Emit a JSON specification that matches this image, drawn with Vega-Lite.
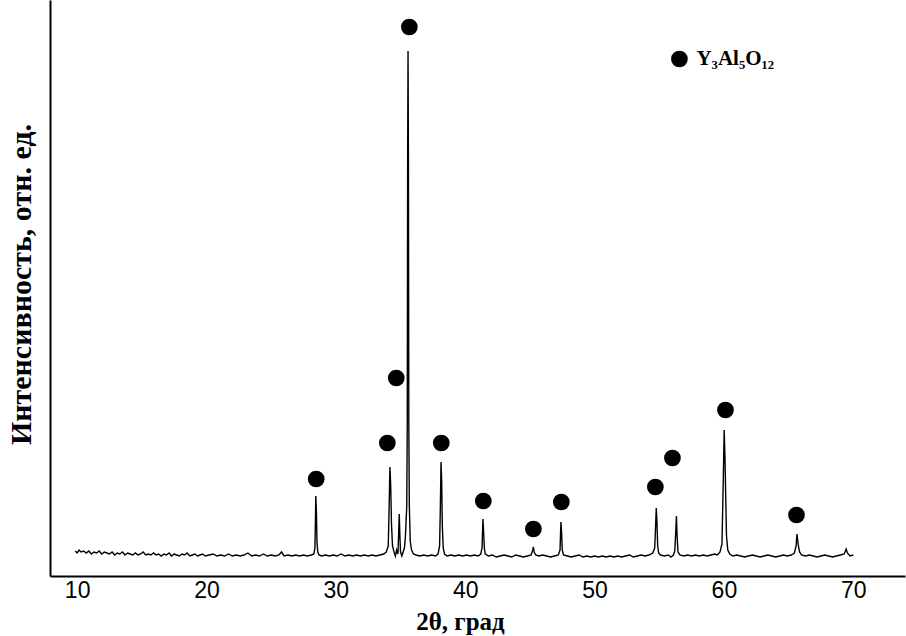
{
  "$schema": "https://vega.github.io/schema/vega-lite/v6.json",
  "width": 855,
  "height": 576,
  "autosize": "none",
  "padding": {"left": 50, "top": 0, "right": 1, "bottom": 60},
  "background": "white",
  "config": {"view": {"stroke": null}},
  "datasets": {
    "xrd": [
      {"t":9.85,"i":25},{"t":10.0,"i":23},{"t":10.15,"i":26},{"t":10.3,"i":24},{"t":10.5,"i":25},{"t":10.7,"i":23},{"t":10.9,"i":25},{"t":11.1,"i":22},{"t":11.3,"i":24},{"t":11.5,"i":23},{"t":11.7,"i":25},{"t":11.9,"i":22},{"t":12.1,"i":24},{"t":12.3,"i":23},{"t":12.5,"i":22},{"t":12.7,"i":24},{"t":12.9,"i":21},{"t":13.1,"i":23},{"t":13.3,"i":22},{"t":13.5,"i":24},{"t":13.7,"i":21},{"t":13.9,"i":23},{"t":14.1,"i":22},{"t":14.3,"i":21},{"t":14.5,"i":23},{"t":14.7,"i":21},{"t":14.9,"i":22},{"t":15.1,"i":24},{"t":15.3,"i":21},{"t":15.5,"i":22},{"t":15.7,"i":21},{"t":15.9,"i":23},{"t":16.1,"i":21},{"t":16.3,"i":22},{"t":16.5,"i":20},{"t":16.7,"i":22},{"t":16.9,"i":21},{"t":17.1,"i":23},{"t":17.3,"i":20},{"t":17.5,"i":22},{"t":17.7,"i":21},{"t":17.9,"i":20},{"t":18.1,"i":22},{"t":18.3,"i":21},{"t":18.5,"i":23},{"t":18.7,"i":20},{"t":18.9,"i":21},{"t":19.1,"i":22},{"t":19.3,"i":20},{"t":19.5,"i":21},{"t":19.7,"i":22},{"t":19.9,"i":20},{"t":20.2,"i":21},{"t":20.5,"i":22},{"t":20.8,"i":20},{"t":21.1,"i":21},{"t":21.4,"i":20},{"t":21.7,"i":22},{"t":22.0,"i":20},{"t":22.3,"i":21},{"t":22.6,"i":20},{"t":22.9,"i":21},{"t":23.2,"i":23},{"t":23.5,"i":20},{"t":23.8,"i":21},{"t":24.1,"i":20},{"t":24.4,"i":22},{"t":24.7,"i":20},{"t":25.0,"i":21},{"t":25.3,"i":20},{"t":25.6,"i":21},{"t":25.8,"i":24},{"t":26.0,"i":20},{"t":26.3,"i":21},{"t":26.6,"i":20},{"t":26.9,"i":21},{"t":27.2,"i":20},{"t":27.5,"i":21},{"t":27.8,"i":20},{"t":28.1,"i":21},{"t":28.3,"i":22},
      {"t":28.38,"i":28},{"t":28.42,"i":55},{"t":28.45,"i":80},{"t":28.5,"i":62},{"t":28.54,"i":34},{"t":28.6,"i":24},{"t":28.7,"i":21},
      {"t":28.9,"i":20},{"t":29.2,"i":21},{"t":29.5,"i":20},{"t":29.8,"i":21},{"t":30.1,"i":20},{"t":30.4,"i":22},{"t":30.7,"i":20},{"t":31.0,"i":21},{"t":31.3,"i":20},{"t":31.6,"i":21},{"t":31.9,"i":20},{"t":32.2,"i":21},{"t":32.5,"i":20},{"t":32.8,"i":21},{"t":33.1,"i":20},{"t":33.4,"i":21},{"t":33.7,"i":22},{"t":33.9,"i":24},{"t":34.05,"i":30},
      {"t":34.12,"i":70},{"t":34.18,"i":109},{"t":34.24,"i":90},{"t":34.3,"i":52},{"t":34.38,"i":30},{"t":34.5,"i":24},{"t":34.6,"i":20},{"t":34.7,"i":26},{"t":34.8,"i":22},
      {"t":34.86,"i":45},{"t":34.9,"i":62},{"t":34.95,"i":40},{"t":35.0,"i":24},{"t":35.1,"i":20},{"t":35.2,"i":24},{"t":35.3,"i":28},{"t":35.38,"i":40},
      {"t":35.48,"i":70},{"t":35.52,"i":151},{"t":35.55,"i":420},{"t":35.58,"i":525},{"t":35.61,"i":420},{"t":35.64,"i":151},{"t":35.68,"i":70},{"t":35.75,"i":35},{"t":35.85,"i":26},{"t":36.0,"i":22},
      {"t":36.2,"i":21},{"t":36.5,"i":20},{"t":36.8,"i":21},{"t":37.1,"i":20},{"t":37.4,"i":21},{"t":37.7,"i":20},{"t":37.9,"i":22},{"t":38.02,"i":30},
      {"t":38.08,"i":70},{"t":38.13,"i":114},{"t":38.18,"i":95},{"t":38.23,"i":50},{"t":38.3,"i":28},{"t":38.4,"i":22},
      {"t":38.6,"i":20},{"t":38.9,"i":21},{"t":39.2,"i":20},{"t":39.5,"i":21},{"t":39.8,"i":20},{"t":40.1,"i":21},{"t":40.4,"i":20},{"t":40.7,"i":21},{"t":41.0,"i":20},{"t":41.2,"i":22},{"t":41.3,"i":28},{"t":41.37,"i":57},{"t":41.42,"i":45},{"t":41.48,"i":28},{"t":41.55,"i":22},
      {"t":41.8,"i":20},{"t":42.1,"i":21},{"t":42.4,"i":19},{"t":42.7,"i":20},{"t":43.0,"i":21},{"t":43.3,"i":20},{"t":43.6,"i":19},{"t":43.9,"i":21},{"t":44.2,"i":20},{"t":44.5,"i":19},{"t":44.8,"i":20},{"t":45.1,"i":21},{"t":45.22,"i":26},{"t":45.27,"i":29},{"t":45.33,"i":24},{"t":45.45,"i":21},{"t":45.7,"i":20},{"t":46.0,"i":21},{"t":46.3,"i":20},{"t":46.6,"i":19},{"t":46.9,"i":20},{"t":47.2,"i":21},{"t":47.33,"i":26},{"t":47.4,"i":54},{"t":47.45,"i":44},{"t":47.5,"i":26},{"t":47.6,"i":21},
      {"t":47.9,"i":20},{"t":48.2,"i":19},{"t":48.5,"i":20},{"t":48.8,"i":21},{"t":49.1,"i":19},{"t":49.4,"i":20},{"t":49.7,"i":19},{"t":50.0,"i":20},{"t":50.3,"i":19},{"t":50.6,"i":20},{"t":50.9,"i":19},{"t":51.2,"i":20},{"t":51.5,"i":19},{"t":51.8,"i":20},{"t":52.1,"i":19},{"t":52.4,"i":20},{"t":52.7,"i":21},{"t":53.0,"i":19},{"t":53.3,"i":20},{"t":53.6,"i":21},{"t":53.9,"i":20},{"t":54.2,"i":21},{"t":54.5,"i":23},{"t":54.65,"i":28},{"t":54.72,"i":50},{"t":54.77,"i":68},{"t":54.82,"i":55},{"t":54.88,"i":30},{"t":54.95,"i":23},{"t":55.1,"i":21},
      {"t":55.4,"i":20},{"t":55.7,"i":21},{"t":55.9,"i":19},{"t":56.1,"i":21},{"t":56.2,"i":25},{"t":56.28,"i":45},{"t":56.33,"i":60},{"t":56.38,"i":40},{"t":56.45,"i":24},{"t":56.6,"i":21},
      {"t":56.9,"i":20},{"t":57.2,"i":21},{"t":57.5,"i":20},{"t":57.8,"i":21},{"t":58.1,"i":20},{"t":58.4,"i":21},{"t":58.7,"i":20},{"t":59.0,"i":21},{"t":59.3,"i":22},{"t":59.5,"i":21},{"t":59.7,"i":24},{"t":59.85,"i":32},{"t":59.95,"i":95},{"t":60.02,"i":146},{"t":60.08,"i":120},{"t":60.14,"i":80},{"t":60.2,"i":40},{"t":60.3,"i":26},{"t":60.45,"i":22},
      {"t":60.7,"i":20},{"t":61.0,"i":21},{"t":61.3,"i":20},{"t":61.6,"i":19},{"t":61.9,"i":20},{"t":62.2,"i":21},{"t":62.5,"i":20},{"t":62.8,"i":19},{"t":63.1,"i":20},{"t":63.4,"i":21},{"t":63.7,"i":20},{"t":64.0,"i":19},{"t":64.3,"i":20},{"t":64.6,"i":21},{"t":64.9,"i":20},{"t":65.2,"i":21},{"t":65.45,"i":23},{"t":65.58,"i":30},{"t":65.65,"i":42},{"t":65.7,"i":36},{"t":65.76,"i":30},{"t":65.85,"i":24},{"t":66.0,"i":21},
      {"t":66.3,"i":20},{"t":66.6,"i":21},{"t":66.9,"i":20},{"t":67.2,"i":19},{"t":67.5,"i":20},{"t":67.8,"i":21},{"t":68.1,"i":20},{"t":68.4,"i":19},{"t":68.7,"i":20},{"t":69.0,"i":21},{"t":69.3,"i":22},{"t":69.45,"i":27},{"t":69.55,"i":23},{"t":69.75,"i":20},{"t":70.0,"i":21}
    ],
    "peaks": [
      {"t":28.48,"i":97},{"t":33.98,"i":133},{"t":34.67,"i":198},{"t":35.68,"i":549},{"t":38.15,"i":133},{"t":41.40,"i":75},{"t":45.27,"i":47},{"t":47.43,"i":74},{"t":54.70,"i":89},{"t":56.02,"i":118},{"t":60.12,"i":166},{"t":65.61,"i":61}
    ],
    "legend": [
      {"t":56.56,"i":517,"label":"Y₃Al₅O₁₂"}
    ]
  },
  "layer": [
    {
      "data": {"name": "xrd"},
      "mark": {"type": "line", "color": "black", "strokeWidth": 1.4},
      "encoding": {
        "x": {"field": "t", "type": "quantitative",
          "scale": {"domain": [7.9, 74], "nice": false, "zero": false},
          "axis": {"values": [10,20,30,40,50,60,70], "ticks": false, "grid": false,
            "domainColor": "black", "domainWidth": 2,
            "labelFont": "Liberation Sans", "labelFontSize": 23, "labelColor": "black", "labelPadding": 3,
            "title": "2θ, град", "titleFont": "Liberation Serif", "titleFontWeight": "bold", "titleFontSize": 25,
            "titleColor": "black", "titlePadding": 7, "titleX": 410}},
        "y": {"field": "i", "type": "quantitative",
          "scale": {"domain": [0, 576], "nice": false},
          "axis": {"labels": false, "ticks": false, "grid": false,
            "domainColor": "black", "domainWidth": 2,
            "title": "Интенсивность, отн. ед.", "titleFont": "Liberation Serif", "titleFontWeight": "bold",
            "titleFontSize": 30, "titleColor": "black", "titlePadding": 14, "titleY": 284}}
      }
    },
    {
      "data": {"name": "peaks"},
      "mark": {"type": "point", "shape": "circle", "filled": true, "size": 280, "color": "black", "opacity": 1},
      "encoding": {
        "x": {"field": "t", "type": "quantitative"},
        "y": {"field": "i", "type": "quantitative"}
      }
    },
    {
      "data": {"name": "legend"},
      "layer": [
        {
          "mark": {"type": "point", "shape": "circle", "filled": true, "size": 280, "color": "black", "opacity": 1},
          "encoding": {
            "x": {"field": "t", "type": "quantitative"},
            "y": {"field": "i", "type": "quantitative"}
          }
        },
        {
          "mark": {"type": "text", "align": "left", "baseline": "middle", "dx": 17, "font": "Liberation Serif", "fontWeight": "bold", "fontSize": 21, "color": "black"},
          "encoding": {
            "x": {"field": "t", "type": "quantitative"},
            "y": {"field": "i", "type": "quantitative"},
            "text": {"field": "label"}
          }
        }
      ]
    }
  ]
}
